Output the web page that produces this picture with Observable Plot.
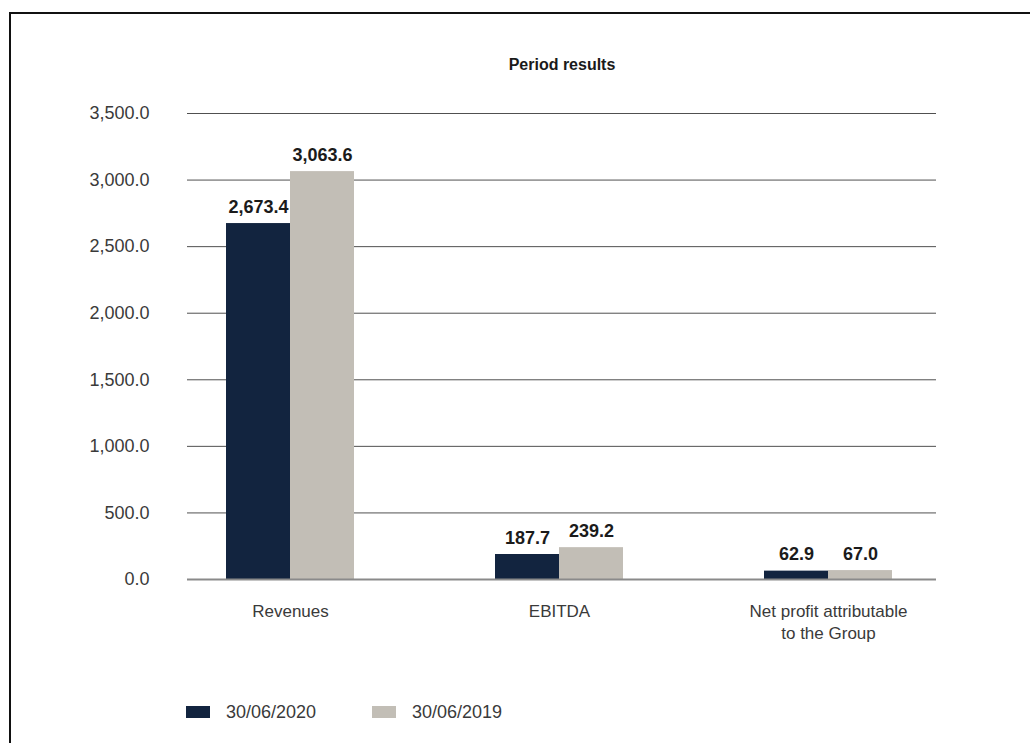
<!DOCTYPE html>
<html>
<head>
<meta charset="utf-8">
<script src="https://cdn.jsdelivr.net/npm/d3@7"></script>
<script src="https://cdn.jsdelivr.net/npm/@observablehq/plot@0.6"></script>
<style>
  html, body { margin: 0; padding: 0; width: 1030px; height: 743px; overflow: hidden; background: #fff; }
  body { position: relative; font-family: "Liberation Sans", Arial, sans-serif; }
  #frame { position: absolute; left: 9px; top: 12px; width: 1100px; height: 800px; border-top: 2px solid #111; border-left: 2px solid #111; }
  #chart { position: absolute; left: 0; top: 0; }
  #title { position: absolute; left: 462px; width: 200px; top: 55px; line-height: 20px; text-align: center; font-size: 16px; font-weight: bold; color: #1a1a1a; }
  .legend-item { position: absolute; top: 702px; height: 20px; display: flex; align-items: center; font-size: 18px; color: #3a3a3a; }
  .legend-swatch { width: 24px; height: 12px; margin-right: 16px; }
</style>
</head>
<body>
<div id="frame"></div>
<div id="title">Period results</div>
<div id="chart"></div>
<div id="legend"></div>
<script>
// ---- Data ----
const categories = ["Revenues", "EBITDA", "Net profit attributable to the Group"];
const categoryTickLabels = ["Revenues", "EBITDA", "Net profit attributable\nto the Group"];
const seriesNames = ["30/06/2020", "30/06/2019"];
const values2020 = [2673.4, 187.7, 62.9];
const values2019 = [3063.6, 239.2, 67.0];
const yTicks = [0, 500, 1000, 1500, 2000, 2500, 3000, 3500];
const seriesColors = ["#12243f", "#c2beb6"];

const data2020 = categories.map((c, i) => ({category: c, series: seriesNames[0], value: values2020[i]}));
const data2019 = categories.map((c, i) => ({category: c, series: seriesNames[1], value: values2019[i]}));
const fmt = d3.format(",.1f");

const chart = Plot.plot({
  width: 1030,
  height: 660,
  marginLeft: 187,
  marginRight: 94,
  marginTop: 113,
  marginBottom: 81,
  style: {background: "transparent", fontFamily: "'Liberation Sans', Arial, sans-serif", overflow: "visible"},
  x: {type: "band", domain: categories, range: [225, 892.5], paddingInner: 0.5255, paddingOuter: 0, align: 0.5},
  y: {domain: [0, 3500]},
  marks: [
    Plot.ruleY(yTicks.filter(t => t > 0), {stroke: "#505050", strokeWidth: 1}),
    Plot.barY(data2020, {x: "category", y: "value", fill: seriesColors[0], insetRight: 64}),
    Plot.barY(data2019, {x: "category", y: "value", fill: seriesColors[1], insetLeft: 64}),
    Plot.ruleY([0], {stroke: "#8a8a8a", strokeWidth: 2}),
    Plot.text(data2020, {x: "category", y: "value", text: d => fmt(d.value), dx: -32, dy: -11, lineAnchor: "bottom", fontWeight: "bold", fontSize: 18, fill: "#1b1b1b"}),
    Plot.text(data2019, {x: "category", y: "value", text: d => fmt(d.value), dx: 32, dy: -11, lineAnchor: "bottom", fontWeight: "bold", fontSize: 18, fill: "#1b1b1b"}),
    Plot.axisY({ticks: yTicks, tickFormat: fmt, tickSize: 0, tickPadding: 38, fontSize: 18, color: "#3a3a3a", label: null}),
    Plot.axisX({tickSize: 0, tickPadding: 22, fontSize: 17, lineHeight: 1.3, color: "#3a3a3a", label: null,
      tickFormat: d => categoryTickLabels[categories.indexOf(d)]})
  ]
});
document.getElementById("chart").appendChild(chart);

// ---- Legend ----
const legend = document.getElementById("legend");
const legendLefts = [186, 372];
seriesNames.forEach((name, i) => {
  const item = document.createElement("div");
  item.className = "legend-item";
  item.style.left = legendLefts[i] + "px";
  const sw = document.createElement("span");
  sw.className = "legend-swatch";
  sw.style.background = seriesColors[i];
  const label = document.createElement("span");
  label.textContent = name;
  item.appendChild(sw);
  item.appendChild(label);
  legend.appendChild(item);
});
</script>
</body>
</html>
